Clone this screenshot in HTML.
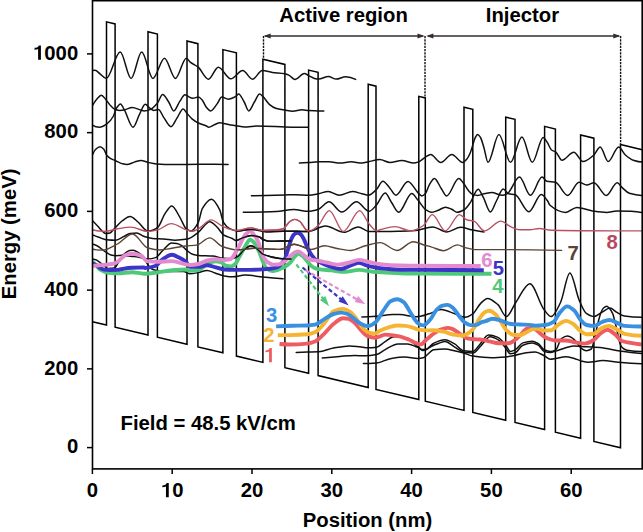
<!DOCTYPE html>
<html><head><meta charset="utf-8"><style>
html,body{margin:0;padding:0;background:#fff;width:643px;height:532px;overflow:hidden}
svg{display:block}
.t{font-family:"Liberation Sans",sans-serif;font-weight:bold;font-size:20.3px;fill:#000}
.lab{font-family:"Liberation Sans",sans-serif;font-weight:bold;font-size:20.3px}
</style></head><body>
<svg width="643" height="532" viewBox="0 0 643 532">
<defs><clipPath id="pc"><rect x="92.5" y="0" width="549.7" height="469"/></clipPath><clipPath id="ov"><rect x="236.5" y="0" width="74" height="469"/></clipPath></defs>
<g clip-path="url(#pc)" fill="none" stroke-linejoin="miter">
<path d="M92.40,321.70 L106.50,325.06 L106.50,21.86 L115.10,23.92 L115.10,327.12 L148.00,334.97 L148.00,31.77 L157.40,34.01 L157.40,337.21 L187.00,344.27 L187.00,41.07 L197.90,43.67 L197.90,346.87 L222.90,352.84 L222.90,49.64 L236.40,52.86 L236.40,356.06 L262.90,362.38 L262.90,59.18 L284.90,64.43 L284.90,367.63 L308.60,373.29 L308.60,70.09 L318.10,72.35 L318.10,375.55 L368.20,387.51 L368.20,84.31 L376.00,86.17 L376.00,389.37 L418.80,399.58 L418.80,96.38 L425.30,97.93 L425.30,401.13 L464.00,410.36 L464.00,107.16 L472.80,109.26 L472.80,412.46 L505.70,420.31 L505.70,117.11 L515.00,119.33 L515.00,422.53 L544.60,429.59 L544.60,126.39 L555.40,128.97 L555.40,432.17 L580.60,438.18 L580.60,134.98 L593.90,138.16 L593.90,441.36 L620.50,447.70 L620.50,144.50 L642.20,149.68" stroke="#000" stroke-width="1.5"/>
<path d="M92.00,70.50 C93.00,70.30 94.00,70.30 95.00,70.30 C96.67,70.30 98.33,72.60 100.00,73.80 C102.07,75.29 104.13,78.40 106.20,78.40 C110.87,78.40 115.53,52.00 120.20,52.00 C123.83,52.00 127.47,78.40 131.10,78.40 C134.63,78.40 138.17,52.00 141.70,52.00 C145.43,52.00 149.17,78.40 152.90,78.40 C156.77,78.40 160.63,58.20 164.50,58.20 C168.13,58.20 171.77,78.40 175.40,78.40 C179.03,78.40 182.67,58.20 186.30,58.20 C187.60,58.20 188.90,61.06 190.20,62.10 C192.87,64.23 195.53,65.03 198.20,67.20 C201.63,70.00 205.07,79.20 208.50,79.20 C211.77,79.20 215.03,67.20 218.30,67.20 C222.43,67.20 226.57,78.80 230.70,78.80 C234.70,78.80 238.70,70.50 242.70,70.50 C245.97,70.50 249.23,79.20 252.50,79.20 C255.77,79.20 259.03,70.50 262.30,70.50 C265.67,70.50 269.03,71.94 272.40,72.40 C276.57,72.96 280.73,72.94 284.90,73.70 C286.43,73.98 287.97,74.81 289.50,75.60 C291.33,76.54 293.17,79.40 295.00,79.40 C298.10,79.40 301.20,73.50 304.30,73.50 C305.77,73.50 307.23,74.89 308.70,75.60 C310.60,76.52 312.50,77.99 314.40,78.40 C315.80,78.70 317.20,79.00 318.60,79.00 C321.87,79.00 325.13,76.50 328.40,76.50 C331.00,76.50 333.60,79.10 336.20,79.10 C339.30,79.10 342.40,76.80 345.50,76.80 C348.87,76.80 352.23,77.65 355.60,79.40" stroke="#111" stroke-width="1.5" stroke-linecap="round"/>
<path d="M92.00,106.50 C93.57,103.51 95.13,100.92 96.70,99.20 C98.23,97.52 99.77,95.30 101.30,95.30 C102.87,95.30 104.43,98.01 106.00,99.70 C107.57,101.39 109.13,104.13 110.70,105.70 C112.23,107.24 113.77,109.02 115.30,109.50 C116.87,109.99 118.43,110.40 120.00,110.40 C121.53,110.40 123.07,110.14 124.60,109.90 C127.10,109.51 129.60,107.40 132.10,107.40 C134.90,107.40 137.70,109.11 140.50,109.90 C141.73,110.25 142.97,110.90 144.20,110.90 C146.13,110.90 148.07,110.28 150.00,109.60 C152.50,108.73 155.00,105.85 157.50,102.90 C159.20,100.89 160.90,94.50 162.60,94.50 C164.63,94.50 166.67,99.05 168.70,102.00 C170.40,104.47 172.10,110.90 173.80,110.90 C175.83,110.90 177.87,103.95 179.90,101.10 C181.60,98.71 183.30,94.70 185.00,94.70 C185.77,94.70 186.53,95.53 187.30,95.90 C189.17,96.79 191.03,98.30 192.90,98.30 C194.77,98.30 196.63,96.90 198.50,96.90 C199.73,96.90 200.97,98.68 202.20,100.10 C203.47,101.56 204.73,105.17 206.00,106.70 C207.53,108.55 209.07,110.90 210.60,110.90 C212.77,110.90 214.93,106.60 217.10,103.90 C218.67,101.95 220.23,97.10 221.80,97.10 C223.97,97.10 226.13,99.20 228.30,99.20 C230.80,99.20 233.30,97.76 235.80,96.40 C236.73,95.89 237.67,94.10 238.60,94.10 C240.47,94.10 242.33,98.94 244.20,102.00 C245.73,104.51 247.27,110.90 248.80,110.90 C250.67,110.90 252.53,104.90 254.40,102.00 C256.13,99.31 257.87,94.10 259.60,94.10 C260.67,94.10 261.73,95.46 262.80,96.40 C264.97,98.30 267.13,102.53 269.30,104.30 C271.40,106.02 273.50,107.53 275.60,108.20 C278.70,109.18 281.80,109.56 284.90,110.10 C287.50,110.55 290.10,111.30 292.70,111.30 C295.80,111.30 298.90,109.80 302.00,109.80 C304.23,109.80 306.47,110.37 308.70,110.50 C312.00,110.70 315.30,110.90 318.60,110.90 C320.33,110.90 322.07,110.90 323.80,110.90" stroke="#111" stroke-width="1.5" stroke-linecap="round"/>
<path d="M92.00,124.80 C94.50,126.56 97.00,127.20 99.50,127.20 C101.97,127.20 104.43,125.52 106.90,123.90 C109.10,122.46 111.30,119.84 113.50,116.00 C114.43,114.37 115.37,109.99 116.30,108.50 C117.70,106.26 119.10,103.90 120.50,103.90 C121.87,103.90 123.23,108.01 124.60,110.40 C127.40,115.29 130.20,127.20 133.00,127.20 C135.20,127.20 137.40,118.19 139.60,114.10 C141.47,110.63 143.33,104.30 145.20,104.30 C146.73,104.30 148.27,107.05 149.80,108.10 C151.10,108.99 152.40,110.40 153.70,110.40 C155.27,110.40 156.83,109.50 158.40,109.50 C160.27,109.50 162.13,115.34 164.00,117.90 C166.33,121.10 168.67,126.70 171.00,126.70 C173.03,126.70 175.07,120.87 177.10,117.90 C179.10,114.97 181.10,109.00 183.10,109.00 C184.50,109.00 185.90,112.16 187.30,113.70 C188.87,115.43 190.43,117.51 192.00,118.80 C194.17,120.58 196.33,121.97 198.50,123.00 C201.00,124.19 203.50,124.69 206.00,125.80 C206.90,126.20 207.80,127.20 208.70,127.20 C210.57,127.20 212.43,125.55 214.30,124.80 C216.17,124.05 218.03,122.70 219.90,122.70 C221.17,122.70 222.43,123.16 223.70,123.40 C226.80,124.00 229.90,124.82 233.00,125.30 C237.67,126.02 242.33,127.00 247.00,127.00 C250.10,127.00 253.20,126.10 256.30,126.10 C259.20,126.10 262.10,126.15 265.00,126.20 C271.63,126.31 278.27,126.77 284.90,126.90 C292.67,127.05 300.43,127.19 308.20,127.20" stroke="#111" stroke-width="1.5" stroke-linecap="round"/>
<path d="M92.40,155.00 C93.50,152.55 94.60,150.26 95.70,149.30 C97.17,148.01 98.63,146.80 100.10,146.80 C101.33,146.80 102.57,148.04 103.80,149.30 C104.83,150.36 105.87,154.29 106.90,155.50 C108.17,156.99 109.43,157.87 110.70,158.60 C112.13,159.43 113.57,159.86 115.00,160.50 C117.30,161.52 119.60,162.97 121.90,163.60 C123.53,164.05 125.17,164.60 126.80,164.60 C129.30,164.60 131.80,162.79 134.30,162.10 C136.57,161.48 138.83,160.50 141.10,160.50 C143.40,160.50 145.70,161.91 148.00,162.40 C150.90,163.02 153.80,163.70 156.70,163.90 C161.80,164.25 166.90,164.50 172.00,164.50 C181.33,164.50 190.67,164.30 200.00,164.30 C209.37,164.30 218.73,164.32 228.10,164.40" stroke="#111" stroke-width="1.5" stroke-linecap="round"/>
<path d="M299.40,163.00 C302.50,162.92 305.60,162.77 308.70,162.60 C312.00,162.42 315.30,161.80 318.60,161.80 C322.13,161.80 325.67,161.80 329.20,161.80 C332.83,161.80 336.47,163.00 340.10,163.00 C343.73,163.00 347.37,161.80 351.00,161.80 C354.63,161.80 358.27,163.00 361.90,163.00 C364.07,163.00 366.23,162.21 368.40,161.80 C372.20,161.08 376.00,159.60 379.80,159.60 C383.20,159.60 386.60,162.50 390.00,162.50 C393.93,162.50 397.87,160.50 401.80,160.50 C405.77,160.50 409.73,163.00 413.70,163.00 C415.40,163.00 417.10,162.39 418.80,161.80 C421.03,161.03 423.27,158.41 425.50,157.10 C427.20,156.10 428.90,154.50 430.60,154.50 C434.00,154.50 437.40,162.50 440.80,162.50 C444.47,162.50 448.13,154.50 451.80,154.50 C455.47,154.50 459.13,162.50 462.80,162.50 C464.03,162.50 465.27,160.86 466.50,159.50 C467.67,158.21 468.83,156.08 470.00,153.50 C470.83,151.65 471.67,148.55 472.50,146.00 C473.33,143.45 474.17,139.86 475.00,138.20 C475.87,136.47 476.73,134.40 477.60,134.40 C478.57,134.40 479.53,136.00 480.50,137.50 C481.67,139.31 482.83,144.20 484.00,148.00 C485.33,152.34 486.67,162.30 488.00,162.30 C491.63,162.30 495.27,134.60 498.90,134.60 C502.77,134.60 506.63,162.30 510.50,162.30 C514.30,162.30 518.10,137.10 521.90,137.10 C525.37,137.10 528.83,162.30 532.30,162.30 C535.93,162.30 539.57,137.40 543.20,137.40 C544.50,137.40 545.80,140.22 547.10,142.10 C548.50,144.12 549.90,148.52 551.30,149.70 C552.90,151.05 554.50,151.08 556.10,152.30 C558.03,153.78 559.97,160.20 561.90,160.20 C565.87,160.20 569.83,152.30 573.80,152.30 C576.87,152.30 579.93,161.60 583.00,161.60 C586.63,161.60 590.27,158.08 593.90,155.00 C596.00,153.22 598.10,147.00 600.20,147.00 C602.87,147.00 605.53,161.60 608.20,161.60 C611.70,161.60 615.20,147.00 618.70,147.00 C620.93,147.00 623.17,153.09 625.40,155.00 C628.03,157.25 630.67,159.36 633.30,160.20 C636.20,161.12 639.10,162.00 642.00,162.00" stroke="#111" stroke-width="1.5" stroke-linecap="round"/>
<path d="M251.40,195.80 C262.63,195.44 273.87,195.15 285.10,194.90 C288.40,194.83 291.70,194.70 295.00,194.70 C299.57,194.70 304.13,195.20 308.70,195.20 C312.00,195.20 315.30,194.31 318.60,193.70 C321.80,193.11 325.00,191.40 328.20,191.40 C331.90,191.40 335.60,195.20 339.30,195.20 C343.70,195.20 348.10,191.60 352.50,191.60 C355.63,191.60 358.77,192.99 361.90,193.70 C364.07,194.19 366.23,195.20 368.40,195.20 C371.00,195.20 373.60,192.16 376.20,189.80 C378.43,187.78 380.67,181.20 382.90,181.20 C385.23,181.20 387.57,185.66 389.90,188.20 C391.87,190.34 393.83,195.20 395.80,195.20 C399.87,195.20 403.93,181.50 408.00,181.50 C411.30,181.50 414.60,189.43 417.90,192.60 C419.17,193.82 420.43,195.90 421.70,195.90 C422.97,195.90 424.23,194.75 425.50,193.50 C426.73,192.28 427.97,187.14 429.20,185.10 C430.93,182.23 432.67,178.50 434.40,178.50 C436.73,178.50 439.07,185.50 441.40,188.80 C443.13,191.25 444.87,195.90 446.60,195.90 C450.67,195.90 454.73,178.50 458.80,178.50 C460.37,178.50 461.93,181.33 463.50,183.20 C465.07,185.07 466.63,188.40 468.20,190.20 C469.77,192.00 471.33,194.15 472.90,194.60 C474.47,195.05 476.03,195.40 477.60,195.40 C480.13,195.40 482.67,193.95 485.20,193.50 C487.37,193.12 489.53,192.60 491.70,192.60 C495.27,192.60 498.83,195.30 502.40,195.30 C503.97,195.30 505.53,194.54 507.10,193.80 C511.23,191.85 515.37,177.10 519.50,177.10 C523.13,177.10 526.77,195.30 530.40,195.30 C534.30,195.30 538.20,177.10 542.10,177.10 C543.67,177.10 545.23,180.95 546.80,181.30 C549.67,181.94 552.53,181.73 555.40,182.30 C559.50,183.12 563.60,195.40 567.70,195.40 C571.47,195.40 575.23,182.30 579.00,182.30 C581.60,182.30 584.20,185.10 586.80,185.10 C589.17,185.10 591.53,182.70 593.90,182.70 C598.03,182.70 602.17,195.40 606.30,195.40 C609.93,195.40 613.57,182.70 617.20,182.70 C618.87,182.70 620.53,186.12 622.20,187.60 C624.57,189.70 626.93,192.59 629.30,193.30 C633.37,194.52 637.43,195.40 641.50,195.40" stroke="#111" stroke-width="1.5" stroke-linecap="round"/>
<path d="M243.30,212.30 C249.53,212.24 255.77,212.13 262.00,212.00 C266.80,211.90 271.60,211.81 276.40,211.60 C282.20,211.34 288.00,209.50 293.80,209.50 C298.63,209.50 303.47,211.30 308.30,211.30 C311.73,211.30 315.17,210.29 318.60,209.20 C322.07,208.10 325.53,201.80 329.00,201.80 C333.27,201.80 337.53,212.10 341.80,212.10 C346.70,212.10 351.60,201.80 356.50,201.80 C360.67,201.80 364.83,211.30 369.00,211.30 C371.40,211.30 373.80,207.77 376.20,205.30 C379.20,202.21 382.20,192.90 385.20,192.90 C387.27,192.90 389.33,199.20 391.40,202.20 C393.80,205.68 396.20,212.30 398.60,212.30 C403.00,212.30 407.40,193.50 411.80,193.50 C413.83,193.50 415.87,197.76 417.90,200.10 C420.43,203.02 422.97,207.73 425.50,209.50 C427.37,210.80 429.23,212.30 431.10,212.30 C433.30,212.30 435.50,211.22 437.70,210.50 C440.33,209.64 442.97,207.20 445.60,207.20 C447.80,207.20 450.00,208.52 452.20,209.50 C453.77,210.20 455.33,212.30 456.90,212.30 C459.43,212.30 461.97,210.96 464.50,209.50 C466.37,208.42 468.23,205.47 470.10,202.90 C472.80,199.19 475.50,189.20 478.20,189.20 C479.90,189.20 481.60,194.27 483.30,197.30 C485.67,201.52 488.03,212.00 490.40,212.00 C492.40,212.00 494.40,204.58 496.40,201.00 C498.67,196.94 500.93,189.10 503.20,189.10 C505.03,189.10 506.87,193.43 508.70,193.80 C510.77,194.22 512.83,194.11 514.90,194.50 C519.57,195.37 524.23,211.70 528.90,211.70 C533.03,211.70 537.17,194.50 541.30,194.50 C543.37,194.50 545.43,198.01 547.50,200.80 C548.33,201.93 549.17,204.59 550.00,205.30 C555.20,209.71 560.40,212.40 565.60,212.40 C569.37,212.40 573.13,207.50 576.90,207.50 C582.10,207.50 587.30,210.29 592.50,211.00 C597.20,211.64 601.90,212.40 606.60,212.40 C609.90,212.40 613.20,211.00 616.50,211.00 C624.83,211.00 633.17,211.00 641.50,212.40" stroke="#111" stroke-width="1.5" stroke-linecap="round"/>
<path d="M92.00,220.20 C93.87,222.03 95.73,223.97 97.60,226.00 C99.07,227.59 100.53,229.72 102.00,231.00 C103.17,232.01 104.33,233.50 105.50,233.50 C107.00,233.50 108.50,233.30 110.00,233.00 C111.33,232.73 112.67,230.33 114.00,229.00 C116.67,226.33 119.33,222.91 122.00,221.00 C124.70,219.07 127.40,216.50 130.10,216.50 C132.73,216.50 135.37,219.91 138.00,222.00 C141.27,224.60 144.53,231.20 147.80,231.20 C149.53,231.20 151.27,230.57 153.00,230.00 C154.67,229.45 156.33,228.54 158.00,227.10 C160.33,225.08 162.67,216.93 165.00,213.60 C167.27,210.37 169.53,205.90 171.80,205.90 C174.50,205.90 177.20,213.08 179.90,217.40 C181.97,220.70 184.03,227.04 186.10,228.60 C187.73,229.83 189.37,231.00 191.00,231.00 C193.43,231.00 195.87,226.81 198.30,222.30 C199.63,219.83 200.97,210.94 202.30,208.70 C205.40,203.49 208.50,199.30 211.60,199.30 C214.30,199.30 217.00,204.58 219.70,209.90 C220.97,212.39 222.23,220.25 223.50,222.30 C225.57,225.64 227.63,227.57 229.70,228.60 C232.17,229.83 234.63,231.00 237.10,231.00 C239.73,231.00 242.37,230.26 245.00,230.00 C247.50,229.76 250.00,229.40 252.50,229.40 C255.00,229.40 257.50,230.15 260.00,230.60 C262.00,230.96 264.00,231.80 266.00,231.80 C271.70,231.80 277.40,231.30 283.10,231.30 C287.60,231.30 292.10,231.30 296.60,231.30 C300.50,231.30 304.40,231.50 308.30,231.50 C314.00,231.50 319.70,226.10 325.40,226.10 C331.63,226.10 337.87,232.30 344.10,232.30 C348.77,232.30 353.43,226.90 358.10,226.90 C361.73,226.90 365.37,231.50 369.00,231.50 C374.33,231.50 379.67,231.50 385.00,231.50 C390.00,231.50 395.00,231.34 400.00,231.20 C405.20,231.05 410.40,230.82 415.60,230.40 C421.30,229.94 427.00,226.90 432.70,226.90 C437.37,226.90 442.03,232.00 446.70,232.00 C451.37,232.00 456.03,227.30 460.70,227.30 C464.30,227.30 467.90,228.97 471.50,229.70 C475.67,230.54 479.83,231.32 484.00,232.00" stroke="#111" stroke-width="1.5" stroke-linecap="round"/>
<path d="M92.00,234.70 C94.27,235.62 96.53,236.50 98.80,237.30 C101.33,238.20 103.87,239.56 106.40,239.80 C109.50,240.09 112.60,240.30 115.70,240.30 C118.50,240.30 121.30,237.74 124.10,236.40 C126.07,235.46 128.03,233.80 130.00,233.50 C132.27,233.16 134.53,232.90 136.80,232.90 C139.03,232.90 141.27,235.56 143.50,236.30 C146.53,237.31 149.57,238.23 152.60,238.50 C156.33,238.83 160.07,238.84 163.80,239.10 C167.57,239.36 171.33,240.20 175.10,240.20 C179.20,240.20 183.30,239.75 187.40,239.10 C191.03,238.52 194.67,235.00 198.30,232.30 C202.13,229.45 205.97,221.70 209.80,221.70 C212.27,221.70 214.73,225.00 217.20,227.30 C219.30,229.25 221.40,233.45 223.50,234.80 C226.40,236.66 229.30,237.08 232.20,238.50 C233.47,239.12 234.73,240.60 236.00,240.60 C237.83,240.60 239.67,239.03 241.50,238.40 C244.77,237.27 248.03,235.50 251.30,235.50 C253.80,235.50 256.30,236.04 258.80,236.70 C260.53,237.16 262.27,239.43 264.00,240.00 C266.00,240.65 268.00,241.30 270.00,241.30 C273.33,241.30 276.67,241.00 280.00,241.00 C283.83,241.00 287.67,241.00 291.50,241.00" stroke="#111" stroke-width="1.5" stroke-linecap="round"/>
<path d="M92.00,244.00 C93.50,244.25 95.00,244.83 96.50,245.50 C98.00,246.17 99.50,247.44 101.00,248.50 C102.50,249.56 104.00,250.93 105.50,251.90 C107.27,253.05 109.03,254.47 110.80,254.90 C112.53,255.32 114.27,255.70 116.00,255.70 C118.03,255.70 120.07,255.56 122.10,255.30 C123.33,255.14 124.57,253.50 125.80,252.70 C127.07,251.88 128.33,250.47 129.60,250.40 C130.73,250.34 131.87,250.30 133.00,250.30 C134.93,250.30 136.87,251.71 138.80,252.90 C140.70,254.07 142.60,256.00 144.50,258.50 C145.67,260.04 146.83,263.56 148.00,265.00 C149.67,267.06 151.33,268.90 153.00,269.50 C155.33,270.34 157.67,270.80 160.00,271.00 C163.33,271.28 166.67,271.50 170.00,271.50 C174.50,271.50 179.00,271.50 183.50,271.50 C185.67,271.50 187.83,273.80 190.00,273.80 C192.87,273.80 195.73,273.04 198.60,272.50 C201.43,271.97 204.27,270.40 207.10,270.40 C209.73,270.40 212.37,272.15 215.00,273.00 C218.07,273.99 221.13,275.42 224.20,275.90 C227.07,276.35 229.93,276.80 232.80,276.80 C236.87,276.80 240.93,275.10 245.00,275.10 C250.93,275.10 256.87,276.44 262.80,277.00 C269.57,277.64 276.33,278.22 283.10,278.70" stroke="#111" stroke-width="1.5" stroke-linecap="round"/>
<path d="M92.00,259.00 C93.27,259.00 94.53,259.40 95.80,259.80 C97.03,260.19 98.27,261.22 99.50,262.10 C100.67,262.93 101.83,264.11 103.00,265.00 C104.67,266.27 106.33,268.50 108.00,268.50 C110.20,268.50 112.40,268.38 114.60,268.10 C115.73,267.95 116.87,264.63 118.00,263.00 C119.33,261.08 120.67,258.09 122.00,257.50 C124.00,256.61 126.00,256.00 128.00,256.00 C130.03,256.00 132.07,256.36 134.10,256.60 C136.07,256.84 138.03,257.17 140.00,257.50 C142.73,257.95 145.47,259.00 148.20,259.00 C150.70,259.00 153.20,258.40 155.70,257.60 C157.90,256.90 160.10,253.03 162.30,251.00 C165.43,248.11 168.57,243.00 171.70,243.00 C173.40,243.00 175.10,243.29 176.80,243.60 C178.30,243.87 179.80,244.51 181.30,245.30 C183.17,246.28 185.03,248.93 186.90,250.40 C188.77,251.87 190.63,253.73 192.50,254.30 C194.40,254.88 196.30,255.26 198.20,255.40 C203.07,255.76 207.93,255.65 212.80,256.00 C216.20,256.25 219.60,257.97 223.00,258.30 C225.63,258.55 228.27,258.80 230.90,258.80 C233.13,258.80 235.37,257.72 237.60,256.60 C239.73,255.53 241.87,251.66 244.00,250.00 C246.30,248.21 248.60,245.70 250.90,245.70 C252.93,245.70 254.97,247.64 257.00,249.00 C258.93,250.30 260.87,253.26 262.80,254.10 C268.43,256.54 274.07,258.01 279.70,258.40 C283.63,258.67 287.57,258.90 291.50,258.90" stroke="#111" stroke-width="1.5" stroke-linecap="round"/>
<path d="M361.90,317.10 C366.73,316.96 371.57,316.65 376.40,316.30 C381.80,315.90 387.20,314.50 392.60,314.50 C395.07,314.50 397.53,314.55 400.00,314.60 C405.43,314.72 410.87,316.70 416.30,316.70 C420.60,316.70 424.90,314.99 429.20,313.80 C433.20,312.69 437.20,309.50 441.20,309.50 C445.77,309.50 450.33,312.32 454.90,313.80 C458.30,314.90 461.70,317.20 465.10,317.20 C467.67,317.20 470.23,315.50 472.80,313.80 C475.37,312.10 477.93,306.05 480.50,303.60 C482.80,301.40 485.10,298.40 487.40,298.40 C490.83,298.40 494.27,301.54 497.70,304.40 C500.60,306.82 503.50,316.60 506.40,316.60 C509.53,316.60 512.67,306.94 515.80,302.50 C520.50,295.84 525.20,283.70 529.90,283.70 C534.60,283.70 539.30,303.61 544.00,309.50 C546.37,312.46 548.73,316.60 551.10,316.60 C554.23,316.60 557.37,308.85 560.50,302.50 C563.63,296.15 566.77,273.10 569.90,273.10 C573.00,273.10 576.10,293.27 579.20,300.20 C581.57,305.49 583.93,311.71 586.30,313.30 C588.93,315.07 591.57,316.50 594.20,316.50 C596.83,316.50 599.47,313.50 602.10,312.10 C604.73,310.70 607.37,308.10 610.00,308.10 C612.17,308.10 614.33,310.91 616.50,312.10 C619.13,313.55 621.77,315.62 624.40,316.00 C630.10,316.83 635.80,317.30 641.50,317.30" stroke="#111" stroke-width="1.5" stroke-linecap="round"/>
<path d="M296.20,352.40 C299.93,352.30 303.67,352.20 307.40,352.10 C311.13,352.00 314.87,351.97 318.60,351.80 C323.57,351.57 328.53,348.86 333.50,348.00 C338.90,347.07 344.30,345.90 349.70,345.90 C353.03,345.90 356.37,346.45 359.70,346.80 C362.43,347.08 365.17,347.80 367.90,347.80 C370.80,347.80 373.70,347.56 376.60,347.20 C379.33,346.86 382.07,343.52 384.80,341.90 C387.90,340.06 391.00,336.80 394.10,336.80 C396.73,336.80 399.37,336.87 402.00,337.00 C404.67,337.13 407.33,339.00 410.00,340.50 C412.83,342.09 415.67,345.14 418.50,347.20 C419.67,348.05 420.83,349.60 422.00,349.60 C423.37,349.60 424.73,349.42 426.10,349.20 C428.63,348.79 431.17,344.34 433.70,343.20 C437.47,341.51 441.23,339.80 445.00,339.80 C448.10,339.80 451.20,342.04 454.30,343.70 C457.43,345.38 460.57,350.27 463.70,350.70 C466.80,351.12 469.90,351.40 473.00,351.40 C475.07,351.40 477.13,347.35 479.20,345.20 C482.30,341.98 485.40,335.10 488.50,335.10 C491.63,335.10 494.77,336.14 497.90,337.40 C500.50,338.44 503.10,342.18 505.70,345.20 C507.23,346.98 508.77,351.40 510.30,351.40 C511.87,351.40 513.43,350.61 515.00,349.90 C517.60,348.72 520.20,343.67 522.80,342.90 C525.90,341.99 529.00,341.30 532.10,341.30 C534.17,341.30 536.23,342.54 538.30,343.70 C540.30,344.82 542.30,348.91 544.30,349.80 C546.30,350.69 548.30,351.50 550.30,351.50 C552.13,351.50 553.97,350.78 555.80,349.80 C557.67,348.80 559.53,340.04 561.40,338.70 C563.40,337.27 565.40,336.10 567.40,336.10 C569.67,336.10 571.93,337.88 574.20,339.50 C576.50,341.14 578.80,346.47 581.10,348.10 C582.80,349.30 584.50,350.70 586.20,350.70 C587.90,350.70 589.60,350.11 591.30,349.00 C592.27,348.37 593.23,343.55 594.20,340.00 C595.30,335.96 596.40,329.44 597.50,325.00 C598.60,320.56 599.70,315.67 600.80,313.00 C601.70,310.82 602.60,308.79 603.50,308.00 C604.57,307.07 605.63,306.20 606.70,306.20 C607.63,306.20 608.57,307.50 609.50,308.50 C610.53,309.61 611.57,311.10 612.60,313.40 C613.40,315.18 614.20,318.89 615.00,322.00 C615.97,325.76 616.93,330.37 617.90,334.40 C618.77,338.02 619.63,343.41 620.50,345.00 C621.67,347.14 622.83,348.33 624.00,349.00 C625.03,349.59 626.07,350.03 627.10,350.20 C631.90,351.01 636.70,351.50 641.50,351.50" stroke="#111" stroke-width="1.5" stroke-linecap="round"/>
<path d="M322.30,358.00 C328.13,357.37 333.97,356.82 339.80,356.40 C344.77,356.04 349.73,355.50 354.70,355.50 C358.13,355.50 361.57,355.80 365.00,355.80 C368.87,355.80 372.73,355.25 376.60,354.50 C379.33,353.97 382.07,351.19 384.80,349.80 C389.20,347.57 393.60,343.90 398.00,343.90 C401.10,343.90 404.20,343.90 407.30,343.90 C411.03,343.90 414.77,346.13 418.50,347.80 C420.07,348.50 421.63,350.50 423.20,350.50 C424.17,350.50 425.13,350.13 426.10,349.80 C427.77,349.23 429.43,347.37 431.10,346.50 C433.73,345.13 436.37,344.08 439.00,343.20 C441.00,342.53 443.00,341.50 445.00,341.50 C448.10,341.50 451.20,345.03 454.30,346.80 C457.43,348.59 460.57,351.73 463.70,352.20 C466.80,352.66 469.90,353.00 473.00,353.00 C475.60,353.00 478.20,348.46 480.80,346.00 C483.90,343.07 487.00,336.70 490.10,336.70 C493.20,336.70 496.30,338.60 499.40,340.60 C501.50,341.95 503.60,345.76 505.70,348.30 C507.23,350.15 508.77,353.80 510.30,353.80 C511.87,353.80 513.43,353.43 515.00,353.00 C517.60,352.29 520.20,346.25 522.80,345.20 C525.90,343.95 529.00,342.90 532.10,342.90 C534.17,342.90 536.23,344.06 538.30,345.20 C540.30,346.30 542.30,350.98 544.30,351.50 C546.30,352.02 548.30,352.40 550.30,352.40 C552.13,352.40 553.97,351.60 555.80,351.10 C559.10,350.19 562.40,348.53 565.70,347.70 C568.53,346.99 571.37,346.00 574.20,346.00 C576.50,346.00 578.80,346.27 581.10,346.40 C587.40,346.77 593.70,346.95 600.00,347.50 C606.67,348.08 613.33,350.04 620.00,351.00 C627.17,352.03 634.33,352.93 641.50,353.60" stroke="#111" stroke-width="1.5" stroke-linecap="round"/>
<path d="M363.40,363.60 C367.80,363.60 372.20,363.34 376.60,363.00 C381.53,362.61 386.47,359.13 391.40,358.40 C395.83,357.75 400.27,357.10 404.70,357.10 C409.10,357.10 413.50,358.40 417.90,358.40 C419.67,358.40 421.43,358.17 423.20,357.80 C424.17,357.60 425.13,356.50 426.10,355.80 C428.63,353.95 431.17,350.11 433.70,349.80 C437.47,349.34 441.23,349.10 445.00,349.10 C448.10,349.10 451.20,350.07 454.30,350.70 C457.43,351.33 460.57,352.12 463.70,353.00 C466.80,353.88 469.90,355.65 473.00,356.10 C479.23,357.01 485.47,357.70 491.70,357.70 C496.37,357.70 501.03,357.31 505.70,356.90 C508.80,356.62 511.90,355.91 515.00,355.30 C518.33,354.64 521.67,353.46 525.00,353.00 C528.33,352.54 531.67,352.00 535.00,352.00 C538.10,352.00 541.20,354.31 544.30,355.80 C546.30,356.76 548.30,359.20 550.30,359.20 C552.13,359.20 553.97,358.69 555.80,358.40 C559.10,357.88 562.40,356.70 565.70,356.70 C568.53,356.70 571.37,357.66 574.20,358.40 C576.50,359.00 578.80,360.32 581.10,360.90 C583.37,361.47 585.63,362.20 587.90,362.20 C592.87,362.20 597.83,360.60 602.80,360.60 C608.03,360.60 613.27,361.76 618.50,362.20 C626.17,362.84 633.83,363.41 641.50,363.80" stroke="#111" stroke-width="1.5" stroke-linecap="round"/>
<path d="M92.00,229.70 C96.50,231.09 101.00,231.40 105.50,231.40 C109.47,231.40 113.43,229.44 117.40,228.80 C121.90,228.08 126.40,227.10 130.90,227.10 C136.53,227.10 142.17,231.40 147.80,231.40 C151.20,231.40 154.60,230.52 158.00,229.70 C162.40,228.64 166.80,223.60 171.20,223.60 C176.60,223.60 182.00,228.66 187.40,230.10 C189.10,230.55 190.80,231.20 192.50,231.20 C194.83,231.20 197.17,229.43 199.50,228.20 C203.33,226.18 207.17,219.90 211.00,219.90 C214.73,219.90 218.47,224.45 222.20,226.10 C225.53,227.57 228.87,229.17 232.20,229.80 C233.93,230.13 235.67,230.50 237.40,230.50 C241.90,230.50 246.40,227.90 250.90,227.90 C254.87,227.90 258.83,230.50 262.80,230.50 C267.20,230.50 271.60,230.28 276.00,230.00 C278.33,229.85 280.67,229.65 283.00,229.00 C284.00,228.72 285.00,227.09 286.00,226.00 C287.17,224.73 288.33,222.60 289.50,221.80 C291.23,220.61 292.97,219.40 294.70,219.40 C296.47,219.40 298.23,220.36 300.00,221.50 C301.00,222.14 302.00,224.15 303.00,225.50 C304.00,226.85 305.00,228.90 306.00,229.60 C307.00,230.30 308.00,231.00 309.00,231.00 C310.33,231.00 311.67,230.24 313.00,229.60 C314.80,228.74 316.60,227.05 318.40,225.30 C322.03,221.76 325.67,210.60 329.30,210.60 C333.97,210.60 338.63,231.50 343.30,231.50 C348.77,231.50 354.23,210.60 359.70,210.60 C362.80,210.60 365.90,220.41 369.00,223.80 C371.60,226.64 374.20,230.80 376.80,230.80 C377.87,230.80 378.93,230.08 380.00,229.80 C385.07,228.47 390.13,226.60 395.20,226.60 C400.30,226.60 405.40,230.90 410.50,230.90 C414.83,230.90 419.17,228.28 423.50,225.50 C426.43,223.61 429.37,214.60 432.30,214.60 C436.63,214.60 440.97,230.90 445.30,230.90 C450.03,230.90 454.77,214.60 459.50,214.60 C462.03,214.60 464.57,219.34 467.10,220.00 C469.37,220.59 471.63,220.51 473.90,221.10 C477.43,222.03 480.97,230.90 484.50,230.90 C489.93,230.90 495.37,221.10 500.80,221.10 C504.07,221.10 507.33,225.22 510.60,226.60 C513.73,227.93 516.87,229.80 520.00,229.80 C523.33,229.80 526.67,229.76 530.00,229.70 C533.10,229.64 536.20,228.50 539.30,228.50 C543.23,228.50 547.17,230.12 551.10,230.20 C581.23,230.78 611.37,230.90 641.50,230.90" stroke="#b94f62" stroke-width="1.4" stroke-linecap="round"/>
<path d="M92.00,248.90 C95.73,250.10 99.47,250.10 103.20,250.10 C107.93,250.10 112.67,246.46 117.40,244.00 C122.43,241.38 127.47,234.00 132.50,234.00 C137.60,234.00 142.70,246.59 147.80,248.00 C151.77,249.09 155.73,250.00 159.70,250.00 C163.80,250.00 167.90,248.93 172.00,248.30 C176.43,247.62 180.87,246.48 185.30,246.00 C189.03,245.59 192.77,245.61 196.50,245.10 C200.93,244.49 205.37,237.90 209.80,237.90 C213.93,237.90 218.07,245.08 222.20,246.50 C227.27,248.24 232.33,249.90 237.40,249.90 C243.03,249.90 248.67,248.20 254.30,248.20 C259.93,248.20 265.57,248.87 271.20,249.10 C274.13,249.22 277.07,249.40 280.00,249.40 C284.70,249.40 289.40,244.20 294.10,244.20 C297.23,244.20 300.37,246.03 303.50,247.00 C306.07,247.80 308.63,249.50 311.20,249.50 C315.57,249.50 319.93,245.80 324.30,245.80 C328.53,245.80 332.77,247.76 337.00,248.50 C341.47,249.28 345.93,250.50 350.40,250.50 C355.37,250.50 360.33,247.06 365.30,245.80 C370.30,244.53 375.30,242.60 380.30,242.60 C385.87,242.60 391.43,250.50 397.00,250.50 C402.40,250.50 407.80,241.80 413.20,241.80 C417.10,241.80 421.00,244.14 424.90,245.20 C426.97,245.76 429.03,246.22 431.10,246.80 C435.23,247.96 439.37,250.70 443.50,250.70 C448.17,250.70 452.83,244.90 457.50,244.90 C460.10,244.90 462.70,246.91 465.30,247.60 C468.43,248.43 471.57,249.60 474.70,249.60 C483.13,249.60 491.57,249.60 500.00,249.60 C520.53,249.60 541.07,249.94 561.60,250.40" stroke="#5b4232" stroke-width="1.4" stroke-linecap="round"/>
<path d="M92.00,261.60 C93.33,262.55 94.67,263.71 96.00,265.00 C97.33,266.29 98.67,268.71 100.00,269.50 C103.00,271.27 106.00,272.46 109.00,272.80 C112.00,273.14 115.00,273.40 118.00,273.40 C122.67,273.40 127.33,272.20 132.00,272.20 C136.00,272.20 140.00,273.70 144.00,273.70 C148.67,273.70 153.33,272.86 158.00,272.30 C162.67,271.74 167.33,270.55 172.00,270.20 C176.67,269.85 181.33,269.50 186.00,269.50 C187.33,269.50 188.67,270.80 190.00,270.80 C192.87,270.80 195.73,270.50 198.60,270.00 C200.23,269.71 201.87,267.96 203.50,266.80 C205.00,265.73 206.50,263.89 208.00,263.30 C210.57,262.29 213.13,261.40 215.70,261.40 C217.40,261.40 219.10,261.77 220.80,262.20 C222.50,262.63 224.20,265.27 225.90,265.70 C227.63,266.14 229.37,266.50 231.10,266.50 C232.50,266.50 233.90,265.25 235.30,264.00 C236.73,262.72 238.17,258.84 239.60,256.30 C241.40,253.10 243.20,249.57 245.00,246.80 C246.70,244.18 248.40,239.80 250.10,239.80 C251.73,239.80 253.37,241.68 255.00,243.50 C256.47,245.13 257.93,249.36 259.40,252.50 C261.63,257.29 263.87,265.87 266.10,267.70 C268.37,269.56 270.63,271.10 272.90,271.10 C276.30,271.10 279.70,269.10 283.10,267.60 C284.07,267.17 285.03,266.62 286.00,266.00 C287.57,264.99 289.13,263.83 290.70,262.20 C291.97,260.88 293.23,258.06 294.50,256.80 C295.77,255.54 297.03,253.90 298.30,253.90 C299.53,253.90 300.77,254.82 302.00,255.60 C303.33,256.45 304.67,258.31 306.00,259.80 C307.33,261.29 308.67,263.32 310.00,264.60 C311.33,265.88 312.67,267.17 314.00,267.80 C315.40,268.46 316.80,268.97 318.20,269.20 C322.47,269.89 326.73,269.99 331.00,270.40 C335.67,270.85 340.33,271.80 345.00,271.80 C349.67,271.80 354.33,269.90 359.00,269.90 C363.67,269.90 368.33,271.43 373.00,271.80 C382.00,272.51 391.00,272.95 400.00,273.20 C406.67,273.39 413.33,273.58 420.00,273.60 C443.83,273.67 467.67,273.70 491.50,273.70" stroke="#4ec97a" stroke-width="3.9" stroke-linecap="butt"/>
<path d="M92.00,263.60 C93.33,263.80 94.67,264.36 96.00,265.00 C97.33,265.64 98.67,267.28 100.00,268.00 C101.27,268.68 102.53,269.45 103.80,269.60 C105.87,269.85 107.93,270.00 110.00,270.00 C112.67,270.00 115.33,269.97 118.00,269.90 C119.37,269.86 120.73,269.23 122.10,269.00 C125.40,268.44 128.70,267.84 132.00,267.70 C136.00,267.53 140.00,267.40 144.00,267.40 C144.33,267.40 144.67,268.00 145.00,268.00 C148.40,268.00 151.80,267.14 155.20,266.00 C157.53,265.22 159.87,261.22 162.20,259.70 C165.47,257.57 168.73,254.80 172.00,254.80 C174.33,254.80 176.67,256.48 179.00,257.60 C181.33,258.72 183.67,259.85 186.00,261.80 C187.33,262.92 188.67,266.77 190.00,266.80 C192.87,266.88 195.73,266.90 198.60,266.90 C201.43,266.90 204.27,265.20 207.10,265.20 C209.97,265.20 212.83,266.68 215.70,267.40 C218.53,268.11 221.37,269.28 224.20,269.50 C227.07,269.72 229.93,269.90 232.80,269.90 C236.87,269.90 240.93,269.90 245.00,269.90 C250.93,269.90 256.87,269.68 262.80,269.40 C267.30,269.19 271.80,268.77 276.30,267.70 C279.13,267.02 281.97,263.66 284.80,259.00 C285.87,257.25 286.93,252.77 288.00,249.50 C289.00,246.43 290.00,242.30 291.00,240.00 C292.00,237.70 293.00,235.43 294.00,234.60 C295.13,233.66 296.27,232.80 297.40,232.80 C298.60,232.80 299.80,233.67 301.00,234.60 C302.00,235.38 303.00,237.55 304.00,239.50 C305.10,241.64 306.20,245.23 307.30,247.50 C308.53,250.04 309.77,252.32 311.00,254.10 C312.57,256.36 314.13,258.47 315.70,259.70 C317.60,261.20 319.50,262.08 321.40,263.00 C324.60,264.55 327.80,266.00 331.00,266.90 C334.27,267.82 337.53,269.00 340.80,269.00 C344.53,269.00 348.27,265.96 352.00,264.80 C354.33,264.07 356.67,262.90 359.00,262.90 C362.27,262.90 365.53,265.41 368.80,266.20 C372.53,267.10 376.27,267.90 380.00,268.30 C386.67,269.01 393.33,269.64 400.00,269.70 C406.67,269.76 413.33,269.76 420.00,269.80 C441.27,269.93 462.53,270.09 483.80,270.30" stroke="#3b34c6" stroke-width="3.9" stroke-linecap="butt"/>
<path d="M92.00,266.00 C94.50,265.77 97.00,265.53 99.50,265.30 C102.00,265.07 104.50,264.90 107.00,264.60 C109.53,264.29 112.07,264.00 114.60,263.30 C115.73,262.99 116.87,262.25 118.00,261.50 C119.37,260.60 120.73,258.89 122.10,257.80 C123.60,256.60 125.10,254.98 126.60,254.60 C128.40,254.15 130.20,253.80 132.00,253.80 C135.27,253.80 138.53,254.77 141.80,256.10 C143.47,256.78 145.13,260.88 146.80,261.10 C150.53,261.59 154.27,261.80 158.00,261.80 C162.67,261.80 167.33,261.10 172.00,261.10 C176.67,261.10 181.33,263.58 186.00,264.40 C187.33,264.63 188.67,265.00 190.00,265.00 C192.87,265.00 195.73,264.52 198.60,264.00 C201.43,263.49 204.27,261.13 207.10,260.50 C209.97,259.87 212.83,259.20 215.70,259.20 C218.53,259.20 221.37,260.10 224.20,260.10 C226.20,260.10 228.20,259.75 230.20,259.20 C231.63,258.81 233.07,256.45 234.50,254.50 C235.93,252.55 237.37,249.51 238.80,246.80 C239.93,244.65 241.07,242.00 242.20,240.00 C243.47,237.76 244.73,235.18 246.00,234.00 C247.37,232.72 248.73,231.30 250.10,231.30 C252.63,231.30 255.17,236.08 257.70,240.60 C259.40,243.63 261.10,252.74 262.80,255.80 C264.53,258.92 266.27,261.41 268.00,262.50 C269.67,263.55 271.33,264.60 273.00,264.60 C274.67,264.60 276.33,264.56 278.00,264.50 C279.77,264.43 281.53,263.28 283.30,262.30 C285.77,260.94 288.23,257.85 290.70,255.80 C292.30,254.47 293.90,252.51 295.50,252.00 C296.43,251.70 297.37,251.40 298.30,251.40 C300.33,251.40 302.37,254.07 304.40,255.50 C306.30,256.84 308.20,259.25 310.10,259.70 C312.87,260.35 315.63,260.36 318.40,260.80 C321.20,261.25 324.00,261.95 326.80,262.50 C330.53,263.23 334.27,264.60 338.00,264.60 C341.73,264.60 345.47,263.41 349.20,262.60 C352.47,261.89 355.73,259.90 359.00,259.90 C362.27,259.90 365.53,261.35 368.80,262.00 C372.53,262.75 376.27,263.70 380.00,264.10 C386.67,264.81 393.33,265.34 400.00,265.50 C406.67,265.66 413.33,265.76 420.00,265.80 C440.23,265.92 460.47,266.00 480.70,266.00" stroke="#e48bd0" stroke-width="3.9" stroke-linecap="butt"/>
<path d="M279.50,344.00 C283.00,344.30 286.50,344.50 290.00,344.50 C295.70,344.50 301.40,344.15 307.10,343.60 C309.73,343.35 312.37,342.55 315.00,341.50 C318.10,340.26 321.20,336.50 324.30,333.60 C327.43,330.67 330.57,326.19 333.70,323.80 C336.80,321.43 339.90,318.20 343.00,318.20 C344.87,318.20 346.73,318.41 348.60,318.70 C350.47,318.99 352.33,320.86 354.20,322.40 C356.67,324.44 359.13,328.32 361.60,330.80 C363.47,332.68 365.33,335.16 367.20,335.90 C369.80,336.93 372.40,337.80 375.00,337.80 C378.50,337.80 382.00,334.60 385.50,334.60 C390.07,334.60 394.63,335.45 399.20,336.30 C402.37,336.89 405.53,338.23 408.70,339.50 C411.23,340.52 413.77,342.37 416.30,343.20 C417.87,343.71 419.43,344.40 421.00,344.40 C422.33,344.40 423.67,342.23 425.00,341.10 C427.50,338.98 430.00,336.32 432.50,334.50 C435.03,332.66 437.57,330.71 440.10,329.80 C442.60,328.90 445.10,327.90 447.60,327.90 C449.47,327.90 451.33,328.63 453.20,329.30 C455.70,330.20 458.20,332.93 460.70,334.50 C462.90,335.88 465.10,337.81 467.30,338.30 C469.50,338.79 471.70,339.04 473.90,339.20 C475.93,339.35 477.97,339.35 480.00,339.50 C483.13,339.74 486.27,340.77 489.40,341.40 C492.53,342.03 495.67,343.30 498.80,343.30 C501.93,343.30 505.07,343.30 508.20,343.30 C510.70,343.30 513.20,341.20 515.70,339.50 C517.60,338.21 519.50,335.73 521.40,333.90 C523.27,332.10 525.13,328.87 527.00,328.60 C528.67,328.36 530.33,328.20 532.00,328.20 C533.47,328.20 534.93,329.26 536.40,330.10 C538.00,331.02 539.60,333.09 541.20,334.30 C543.27,335.87 545.33,337.63 547.40,338.40 C550.17,339.43 552.93,340.50 555.70,340.50 C559.13,340.50 562.57,340.50 566.00,340.50 C569.47,340.50 572.93,342.08 576.40,342.60 C579.17,343.01 581.93,343.60 584.70,343.60 C587.87,343.60 591.03,341.59 594.20,339.70 C596.40,338.39 598.60,334.58 600.80,333.10 C602.97,331.64 605.13,329.80 607.30,329.80 C609.93,329.80 612.57,332.45 615.20,334.40 C617.40,336.03 619.60,340.20 621.80,341.00 C623.70,341.70 625.60,341.94 627.50,342.30 C632.17,343.19 636.83,344.00 641.50,344.50" stroke="#ee5c62" stroke-width="3.9" stroke-linecap="butt"/>
<path d="M277.80,335.20 C281.87,335.20 285.93,335.16 290.00,335.10 C295.70,335.02 301.40,334.74 307.10,334.20 C309.73,333.95 312.37,333.24 315.00,332.20 C318.10,330.98 321.20,326.70 324.30,323.30 C327.43,319.86 330.57,312.50 333.70,311.20 C336.80,309.92 339.90,308.90 343.00,308.90 C345.47,308.90 347.93,310.54 350.40,312.10 C352.60,313.49 354.80,316.81 357.00,319.60 C359.17,322.35 361.33,326.96 363.50,328.90 C365.37,330.57 367.23,332.09 369.10,332.60 C371.07,333.13 373.03,333.60 375.00,333.60 C376.43,333.60 377.87,331.70 379.30,331.00 C382.43,329.47 385.57,328.11 388.70,327.30 C391.80,326.50 394.90,325.50 398.00,325.50 C400.47,325.50 402.93,325.69 405.40,325.90 C407.60,326.09 409.80,326.72 412.00,327.30 C414.17,327.88 416.33,329.24 418.50,329.60 C421.00,330.02 423.50,330.40 426.00,330.40 C428.17,330.40 430.33,330.30 432.50,330.30 C436.27,330.30 440.03,331.03 443.80,331.70 C446.93,332.26 450.07,334.01 453.20,334.50 C456.33,334.99 459.47,335.50 462.60,335.50 C464.80,335.50 467.00,333.97 469.20,332.60 C470.77,331.62 472.33,329.84 473.90,327.90 C475.80,325.55 477.70,321.18 479.60,318.50 C481.30,316.11 483.00,313.01 484.70,312.20 C486.27,311.45 487.83,310.80 489.40,310.80 C491.30,310.80 493.20,312.56 495.10,314.10 C496.97,315.61 498.83,318.94 500.70,321.60 C502.57,324.26 504.43,328.27 506.30,330.10 C508.50,332.25 510.70,334.50 512.90,334.80 C515.10,335.10 517.30,335.30 519.50,335.30 C522.00,335.30 524.50,333.16 527.00,332.00 C528.90,331.12 530.80,329.60 532.70,329.20 C534.13,328.90 535.57,328.60 537.00,328.60 C539.10,328.60 541.20,330.50 543.30,330.50 C546.07,330.50 548.83,330.40 551.60,330.20 C553.67,330.05 555.73,326.31 557.80,325.00 C560.53,323.27 563.27,320.90 566.00,320.90 C568.43,320.90 570.87,322.53 573.30,324.00 C575.37,325.25 577.43,328.69 579.50,330.20 C581.90,331.95 584.30,334.30 586.70,334.30 C589.20,334.30 591.70,334.11 594.20,333.80 C596.40,333.52 598.60,329.54 600.80,328.50 C603.43,327.25 606.07,325.90 608.70,325.90 C611.30,325.90 613.90,327.93 616.50,329.20 C619.13,330.49 621.77,333.24 624.40,333.80 C630.10,335.01 635.80,335.80 641.50,335.80" stroke="#f6b433" stroke-width="3.9" stroke-linecap="butt"/>
<path d="M276.10,326.40 C281.50,326.08 286.90,325.81 292.30,325.70 C297.23,325.60 302.17,325.63 307.10,325.50 C309.73,325.43 312.37,325.15 315.00,324.70 C318.10,324.17 321.20,320.87 324.30,319.10 C327.43,317.31 330.57,314.86 333.70,314.00 C336.17,313.32 338.63,312.60 341.10,312.60 C343.27,312.60 345.43,313.28 347.60,314.00 C349.80,314.73 352.00,317.02 354.20,318.70 C356.07,320.13 357.93,322.32 359.80,323.30 C362.27,324.60 364.73,326.10 367.20,326.10 C368.13,326.10 369.07,325.84 370.00,325.60 C371.87,325.11 373.73,323.77 375.60,322.20 C378.40,319.85 381.20,313.48 384.00,309.60 C386.17,306.60 388.33,302.23 390.50,301.20 C392.67,300.17 394.83,299.30 397.00,299.30 C399.20,299.30 401.40,300.62 403.60,302.10 C405.47,303.35 407.33,307.58 409.20,310.50 C410.73,312.90 412.27,315.89 413.80,318.00 C415.37,320.16 416.93,322.69 418.50,323.60 C420.07,324.51 421.63,325.40 423.20,325.40 C425.57,325.40 427.93,322.09 430.30,319.50 C432.30,317.31 434.30,312.15 436.30,310.10 C438.17,308.18 440.03,306.29 441.90,305.80 C443.80,305.30 445.70,304.90 447.60,304.90 C449.47,304.90 451.33,306.68 453.20,308.20 C455.10,309.74 457.00,313.34 458.90,315.70 C460.77,318.02 462.63,321.00 464.50,322.30 C466.40,323.62 468.30,325.10 470.20,325.10 C472.07,325.10 473.93,325.10 475.80,325.10 C477.67,325.10 479.53,322.93 481.40,322.30 C482.80,321.83 484.20,321.62 485.60,321.20 C487.80,320.54 490.00,318.80 492.20,318.80 C494.40,318.80 496.60,319.31 498.80,319.80 C500.70,320.22 502.60,321.45 504.50,322.10 C506.67,322.84 508.83,323.78 511.00,324.00 C513.83,324.29 516.67,324.36 519.50,324.50 C522.63,324.66 525.77,324.70 528.90,324.90 C530.93,325.03 532.97,325.60 535.00,325.60 C538.43,325.60 541.87,325.36 545.30,325.00 C548.07,324.71 550.83,323.60 553.60,321.90 C555.67,320.63 557.73,314.86 559.80,312.60 C562.23,309.94 564.67,306.40 567.10,306.40 C569.50,306.40 571.90,308.50 574.30,310.50 C576.37,312.23 578.43,317.58 580.50,319.80 C582.57,322.02 584.63,324.56 586.70,325.00 C589.20,325.54 591.70,325.90 594.20,325.90 C596.83,325.90 599.47,322.93 602.10,322.00 C604.50,321.15 606.90,320.00 609.30,320.00 C611.70,320.00 614.10,321.67 616.50,322.60 C619.13,323.62 621.77,325.71 624.40,325.90 C630.10,326.31 635.80,326.50 641.50,326.50" stroke="#3990e0" stroke-width="3.9" stroke-linecap="butt"/>
</g>
<g clip-path="url(#ov)" fill="none">
<path d="M92.00,220.20 C93.87,222.03 95.73,223.97 97.60,226.00 C99.07,227.59 100.53,229.72 102.00,231.00 C103.17,232.01 104.33,233.50 105.50,233.50 C107.00,233.50 108.50,233.30 110.00,233.00 C111.33,232.73 112.67,230.33 114.00,229.00 C116.67,226.33 119.33,222.91 122.00,221.00 C124.70,219.07 127.40,216.50 130.10,216.50 C132.73,216.50 135.37,219.91 138.00,222.00 C141.27,224.60 144.53,231.20 147.80,231.20 C149.53,231.20 151.27,230.57 153.00,230.00 C154.67,229.45 156.33,228.54 158.00,227.10 C160.33,225.08 162.67,216.93 165.00,213.60 C167.27,210.37 169.53,205.90 171.80,205.90 C174.50,205.90 177.20,213.08 179.90,217.40 C181.97,220.70 184.03,227.04 186.10,228.60 C187.73,229.83 189.37,231.00 191.00,231.00 C193.43,231.00 195.87,226.81 198.30,222.30 C199.63,219.83 200.97,210.94 202.30,208.70 C205.40,203.49 208.50,199.30 211.60,199.30 C214.30,199.30 217.00,204.58 219.70,209.90 C220.97,212.39 222.23,220.25 223.50,222.30 C225.57,225.64 227.63,227.57 229.70,228.60 C232.17,229.83 234.63,231.00 237.10,231.00 C239.73,231.00 242.37,230.26 245.00,230.00 C247.50,229.76 250.00,229.40 252.50,229.40 C255.00,229.40 257.50,230.15 260.00,230.60 C262.00,230.96 264.00,231.80 266.00,231.80 C271.70,231.80 277.40,231.30 283.10,231.30 C287.60,231.30 292.10,231.30 296.60,231.30 C300.50,231.30 304.40,231.50 308.30,231.50 C314.00,231.50 319.70,226.10 325.40,226.10 C331.63,226.10 337.87,232.30 344.10,232.30 C348.77,232.30 353.43,226.90 358.10,226.90 C361.73,226.90 365.37,231.50 369.00,231.50 C374.33,231.50 379.67,231.50 385.00,231.50 C390.00,231.50 395.00,231.34 400.00,231.20 C405.20,231.05 410.40,230.82 415.60,230.40 C421.30,229.94 427.00,226.90 432.70,226.90 C437.37,226.90 442.03,232.00 446.70,232.00 C451.37,232.00 456.03,227.30 460.70,227.30 C464.30,227.30 467.90,228.97 471.50,229.70 C475.67,230.54 479.83,231.32 484.00,232.00" stroke="#111" stroke-width="1.5"/>
<path d="M92.00,234.70 C94.27,235.62 96.53,236.50 98.80,237.30 C101.33,238.20 103.87,239.56 106.40,239.80 C109.50,240.09 112.60,240.30 115.70,240.30 C118.50,240.30 121.30,237.74 124.10,236.40 C126.07,235.46 128.03,233.80 130.00,233.50 C132.27,233.16 134.53,232.90 136.80,232.90 C139.03,232.90 141.27,235.56 143.50,236.30 C146.53,237.31 149.57,238.23 152.60,238.50 C156.33,238.83 160.07,238.84 163.80,239.10 C167.57,239.36 171.33,240.20 175.10,240.20 C179.20,240.20 183.30,239.75 187.40,239.10 C191.03,238.52 194.67,235.00 198.30,232.30 C202.13,229.45 205.97,221.70 209.80,221.70 C212.27,221.70 214.73,225.00 217.20,227.30 C219.30,229.25 221.40,233.45 223.50,234.80 C226.40,236.66 229.30,237.08 232.20,238.50 C233.47,239.12 234.73,240.60 236.00,240.60 C237.83,240.60 239.67,239.03 241.50,238.40 C244.77,237.27 248.03,235.50 251.30,235.50 C253.80,235.50 256.30,236.04 258.80,236.70 C260.53,237.16 262.27,239.43 264.00,240.00 C266.00,240.65 268.00,241.30 270.00,241.30 C273.33,241.30 276.67,241.00 280.00,241.00 C283.83,241.00 287.67,241.00 291.50,241.00" stroke="#111" stroke-width="1.5"/>
<path d="M92.00,259.00 C93.27,259.00 94.53,259.40 95.80,259.80 C97.03,260.19 98.27,261.22 99.50,262.10 C100.67,262.93 101.83,264.11 103.00,265.00 C104.67,266.27 106.33,268.50 108.00,268.50 C110.20,268.50 112.40,268.38 114.60,268.10 C115.73,267.95 116.87,264.63 118.00,263.00 C119.33,261.08 120.67,258.09 122.00,257.50 C124.00,256.61 126.00,256.00 128.00,256.00 C130.03,256.00 132.07,256.36 134.10,256.60 C136.07,256.84 138.03,257.17 140.00,257.50 C142.73,257.95 145.47,259.00 148.20,259.00 C150.70,259.00 153.20,258.40 155.70,257.60 C157.90,256.90 160.10,253.03 162.30,251.00 C165.43,248.11 168.57,243.00 171.70,243.00 C173.40,243.00 175.10,243.29 176.80,243.60 C178.30,243.87 179.80,244.51 181.30,245.30 C183.17,246.28 185.03,248.93 186.90,250.40 C188.77,251.87 190.63,253.73 192.50,254.30 C194.40,254.88 196.30,255.26 198.20,255.40 C203.07,255.76 207.93,255.65 212.80,256.00 C216.20,256.25 219.60,257.97 223.00,258.30 C225.63,258.55 228.27,258.80 230.90,258.80 C233.13,258.80 235.37,257.72 237.60,256.60 C239.73,255.53 241.87,251.66 244.00,250.00 C246.30,248.21 248.60,245.70 250.90,245.70 C252.93,245.70 254.97,247.64 257.00,249.00 C258.93,250.30 260.87,253.26 262.80,254.10 C268.43,256.54 274.07,258.01 279.70,258.40 C283.63,258.67 287.57,258.90 291.50,258.90" stroke="#111" stroke-width="1.5"/>
<path d="M92.00,248.90 C95.73,250.10 99.47,250.10 103.20,250.10 C107.93,250.10 112.67,246.46 117.40,244.00 C122.43,241.38 127.47,234.00 132.50,234.00 C137.60,234.00 142.70,246.59 147.80,248.00 C151.77,249.09 155.73,250.00 159.70,250.00 C163.80,250.00 167.90,248.93 172.00,248.30 C176.43,247.62 180.87,246.48 185.30,246.00 C189.03,245.59 192.77,245.61 196.50,245.10 C200.93,244.49 205.37,237.90 209.80,237.90 C213.93,237.90 218.07,245.08 222.20,246.50 C227.27,248.24 232.33,249.90 237.40,249.90 C243.03,249.90 248.67,248.20 254.30,248.20 C259.93,248.20 265.57,248.87 271.20,249.10 C274.13,249.22 277.07,249.40 280.00,249.40 C284.70,249.40 289.40,244.20 294.10,244.20 C297.23,244.20 300.37,246.03 303.50,247.00 C306.07,247.80 308.63,249.50 311.20,249.50 C315.57,249.50 319.93,245.80 324.30,245.80 C328.53,245.80 332.77,247.76 337.00,248.50 C341.47,249.28 345.93,250.50 350.40,250.50 C355.37,250.50 360.33,247.06 365.30,245.80 C370.30,244.53 375.30,242.60 380.30,242.60 C385.87,242.60 391.43,250.50 397.00,250.50 C402.40,250.50 407.80,241.80 413.20,241.80 C417.10,241.80 421.00,244.14 424.90,245.20 C426.97,245.76 429.03,246.22 431.10,246.80 C435.23,247.96 439.37,250.70 443.50,250.70 C448.17,250.70 452.83,244.90 457.50,244.90 C460.10,244.90 462.70,246.91 465.30,247.60 C468.43,248.43 471.57,249.60 474.70,249.60 C483.13,249.60 491.57,249.60 500.00,249.60 C520.53,249.60 541.07,249.94 561.60,250.40" stroke="#5b4232" stroke-width="1.4"/>
<path d="M92.00,229.70 C96.50,231.09 101.00,231.40 105.50,231.40 C109.47,231.40 113.43,229.44 117.40,228.80 C121.90,228.08 126.40,227.10 130.90,227.10 C136.53,227.10 142.17,231.40 147.80,231.40 C151.20,231.40 154.60,230.52 158.00,229.70 C162.40,228.64 166.80,223.60 171.20,223.60 C176.60,223.60 182.00,228.66 187.40,230.10 C189.10,230.55 190.80,231.20 192.50,231.20 C194.83,231.20 197.17,229.43 199.50,228.20 C203.33,226.18 207.17,219.90 211.00,219.90 C214.73,219.90 218.47,224.45 222.20,226.10 C225.53,227.57 228.87,229.17 232.20,229.80 C233.93,230.13 235.67,230.50 237.40,230.50 C241.90,230.50 246.40,227.90 250.90,227.90 C254.87,227.90 258.83,230.50 262.80,230.50 C267.20,230.50 271.60,230.28 276.00,230.00 C278.33,229.85 280.67,229.65 283.00,229.00 C284.00,228.72 285.00,227.09 286.00,226.00 C287.17,224.73 288.33,222.60 289.50,221.80 C291.23,220.61 292.97,219.40 294.70,219.40 C296.47,219.40 298.23,220.36 300.00,221.50 C301.00,222.14 302.00,224.15 303.00,225.50 C304.00,226.85 305.00,228.90 306.00,229.60 C307.00,230.30 308.00,231.00 309.00,231.00 C310.33,231.00 311.67,230.24 313.00,229.60 C314.80,228.74 316.60,227.05 318.40,225.30 C322.03,221.76 325.67,210.60 329.30,210.60 C333.97,210.60 338.63,231.50 343.30,231.50 C348.77,231.50 354.23,210.60 359.70,210.60 C362.80,210.60 365.90,220.41 369.00,223.80 C371.60,226.64 374.20,230.80 376.80,230.80 C377.87,230.80 378.93,230.08 380.00,229.80 C385.07,228.47 390.13,226.60 395.20,226.60 C400.30,226.60 405.40,230.90 410.50,230.90 C414.83,230.90 419.17,228.28 423.50,225.50 C426.43,223.61 429.37,214.60 432.30,214.60 C436.63,214.60 440.97,230.90 445.30,230.90 C450.03,230.90 454.77,214.60 459.50,214.60 C462.03,214.60 464.57,219.34 467.10,220.00 C469.37,220.59 471.63,220.51 473.90,221.10 C477.43,222.03 480.97,230.90 484.50,230.90 C489.93,230.90 495.37,221.10 500.80,221.10 C504.07,221.10 507.33,225.22 510.60,226.60 C513.73,227.93 516.87,229.80 520.00,229.80 C523.33,229.80 526.67,229.76 530.00,229.70 C533.10,229.64 536.20,228.50 539.30,228.50 C543.23,228.50 547.17,230.12 551.10,230.20 C581.23,230.78 611.37,230.90 641.50,230.90" stroke="#b94f62" stroke-width="1.4"/>
</g>
<text x="266.0" y="322.3" style="font-family:'Liberation Sans',sans-serif;font-weight:bold;font-size:20.3px;fill:#3990e0">3</text>
<text x="263.3" y="342.0" style="font-family:'Liberation Sans',sans-serif;font-weight:bold;font-size:20.3px;fill:#f6b433">2</text>
<path d="M0.387,0 L0.387,-0.704 L0.285,-0.704 Q0.25,-0.6 0.072,-0.585 L0.072,-0.49 Q0.2,-0.49 0.249,-0.53 L0.249,0 Z" transform="translate(264.00,362.30) scale(20.3)" fill="#ee5c62"/>
<text x="481.2" y="266.6" style="font-family:'Liberation Sans',sans-serif;font-weight:bold;font-size:20.3px;fill:#e48bd0">6</text>
<text x="492.8" y="274.6" style="font-family:'Liberation Sans',sans-serif;font-weight:bold;font-size:20.3px;fill:#3b34c6">5</text>
<text x="492.3" y="293.0" style="font-family:'Liberation Sans',sans-serif;font-weight:bold;font-size:20.3px;fill:#4ec97a">4</text>
<text x="567.6" y="260.4" style="font-family:'Liberation Sans',sans-serif;font-weight:bold;font-size:20.3px;fill:#5b4232">7</text>
<text x="606.4" y="249.2" style="font-family:'Liberation Sans',sans-serif;font-weight:bold;font-size:20.3px;fill:#b9485f">8</text>
<line x1="265" y1="36" x2="423" y2="36" stroke="#352c2e" stroke-width="1.7"/>
<path d="M263.5,36 L270.7,33.6 L270.7,38.4 Z" fill="#352c2e"/>
<path d="M424.7,36 L417.5,33.6 L417.5,38.4 Z" fill="#352c2e"/>
<line x1="428" y1="36" x2="619" y2="36" stroke="#352c2e" stroke-width="1.7"/>
<path d="M426.2,36 L433.4,33.6 L433.4,38.4 Z" fill="#352c2e"/>
<path d="M620.5,36 L613.3,33.6 L613.3,38.4 Z" fill="#352c2e"/>
<line x1="263.5" y1="36" x2="263.5" y2="58.8" stroke="#111" stroke-width="1.4" stroke-dasharray="2.3,0.95"/>
<line x1="425.0" y1="36" x2="425.0" y2="96.5" stroke="#111" stroke-width="1.4" stroke-dasharray="2.3,0.95"/>
<line x1="620.6" y1="36" x2="620.6" y2="144.8" stroke="#111" stroke-width="1.4" stroke-dasharray="2.3,0.95"/>
<line x1="296.4" y1="264.5" x2="323.25" y2="298.82" stroke="#4ec97a" stroke-width="2.2" stroke-dasharray="4.2,2.6"/><path d="M329.1,306.3 L319.95,300.12 L325.31,295.94 Z" fill="#4ec97a"/>
<line x1="302.5" y1="267.5" x2="341.37" y2="299.56" stroke="#3b34c6" stroke-width="2.2" stroke-dasharray="4.2,2.6"/><path d="M348.7,305.6 L338.44,301.54 L342.76,296.30 Z" fill="#3b34c6"/>
<line x1="305.4" y1="270.1" x2="357.24" y2="299.51" stroke="#e48bd0" stroke-width="2.2" stroke-dasharray="4.2,2.6"/><path d="M365.5,304.2 L354.69,301.98 L358.05,296.06 Z" fill="#e48bd0"/>
<rect x="92.5" y="0.7" width="549.7" height="468.2" fill="none" stroke="#000" stroke-width="1.6"/>
<line x1="87" y1="447.60" x2="92.4" y2="447.60" stroke="#000" stroke-width="1.5"/>
<text x="78.2" y="453.40" text-anchor="end" class="t">0</text>
<line x1="87" y1="368.86" x2="92.4" y2="368.86" stroke="#000" stroke-width="1.5"/>
<text x="78.2" y="374.66" text-anchor="end" class="t">200</text>
<line x1="87" y1="290.12" x2="92.4" y2="290.12" stroke="#000" stroke-width="1.5"/>
<text x="78.2" y="295.92" text-anchor="end" class="t">400</text>
<line x1="87" y1="211.38" x2="92.4" y2="211.38" stroke="#000" stroke-width="1.5"/>
<text x="78.2" y="217.18" text-anchor="end" class="t">600</text>
<line x1="87" y1="132.64" x2="92.4" y2="132.64" stroke="#000" stroke-width="1.5"/>
<text x="78.2" y="138.44" text-anchor="end" class="t">800</text>
<line x1="87" y1="53.90" x2="92.4" y2="53.90" stroke="#000" stroke-width="1.5"/>
<path d="M0.387,0 L0.387,-0.704 L0.285,-0.704 Q0.25,-0.6 0.072,-0.585 L0.072,-0.49 Q0.2,-0.49 0.249,-0.53 L0.249,0 Z" transform="translate(33.05,59.70) scale(20.3)" fill="#000"/>
<text x="44.34" y="59.70" class="t">000</text>
<line x1="92.40" y1="469" x2="92.40" y2="474" stroke="#000" stroke-width="1.5"/>
<text x="92.40" y="497.3" text-anchor="middle" class="t">0</text>
<line x1="172.20" y1="469" x2="172.20" y2="474" stroke="#000" stroke-width="1.5"/>
<path d="M0.387,0 L0.387,-0.704 L0.285,-0.704 Q0.25,-0.6 0.072,-0.585 L0.072,-0.49 Q0.2,-0.49 0.249,-0.53 L0.249,0 Z" transform="translate(160.91,497.30) scale(20.3)" fill="#000"/>
<text x="172.20" y="497.3" class="t">0</text>
<line x1="252.00" y1="469" x2="252.00" y2="474" stroke="#000" stroke-width="1.5"/>
<text x="252.00" y="497.3" text-anchor="middle" class="t">20</text>
<line x1="331.80" y1="469" x2="331.80" y2="474" stroke="#000" stroke-width="1.5"/>
<text x="331.80" y="497.3" text-anchor="middle" class="t">30</text>
<line x1="411.60" y1="469" x2="411.60" y2="474" stroke="#000" stroke-width="1.5"/>
<text x="411.60" y="497.3" text-anchor="middle" class="t">40</text>
<line x1="491.40" y1="469" x2="491.40" y2="474" stroke="#000" stroke-width="1.5"/>
<text x="491.40" y="497.3" text-anchor="middle" class="t">50</text>
<line x1="571.20" y1="469" x2="571.20" y2="474" stroke="#000" stroke-width="1.5"/>
<text x="571.20" y="497.3" text-anchor="middle" class="t">60</text>
<text x="367.5" y="527.3" text-anchor="middle" class="t">Position (nm)</text>
<text transform="translate(16,233.9) rotate(-90)" text-anchor="middle" class="t">Energy (meV)</text>
<text x="120.5" y="429.5" class="t">Field = 48.5 kV/cm</text>
<text x="279.3" y="22.4" class="t">Active region</text>
<text x="485.8" y="22.4" class="t">Injector</text>
</svg>
</body></html>
